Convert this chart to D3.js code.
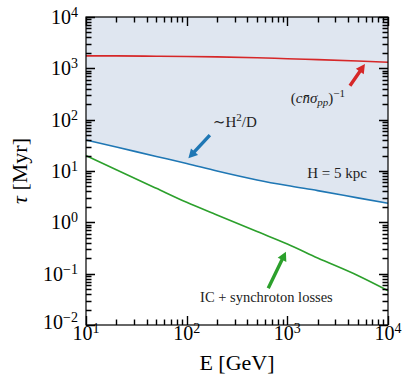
<!DOCTYPE html>
<html>
<head>
<meta charset="utf-8">
<script src="https://cdn.jsdelivr.net/npm/d3@7.9.0/dist/d3.min.js"></script>
<style>
  body { margin: 0; background: #fff; }
  svg { display: block; font-family: "Liberation Serif", "DejaVu Serif", serif; }
</style>
</head>
<body>
<svg id="chart"></svg>
<script>
// values (E in GeV, tau in Myr)
const energy = [10, 20, 50, 100, 200, 500, 1000, 2000, 5000, 10000];
const tauPP = [1750, 1745, 1720, 1700, 1670, 1610, 1540, 1480, 1390, 1310];
const tauEscape = [40.2, 29.3, 19.2, 14.0, 10.0, 6.7, 5.2, 4.15, 3.0, 2.35];
const tauLoss = [20.0, 10.6, 4.6, 2.45, 1.39, 0.66, 0.378, 0.202, 0.092, 0.0466];

const xTickExps = [1, 2, 3, 4];
const yTickExps = [-2, -1, 0, 1, 2, 3, 4];

// arrows: [tail, head] in data coords
const arrows = [
  { color: '#d62728', from: [4190, 459], to: [5900, 1214] },
  { color: '#1f77b4', from: [170, 50], to: [104, 17.7] },
  { color: '#2ca02c', from: [646, 0.0519], to: [968, 0.268] },
];

const width = 403;
const height = 377;
const margin = { top: 17, right: 15, bottom: 52, left: 86 };

const svg = d3.select('#chart').attr('width', width).attr('height', height);

const x = d3.scaleLog().domain([10, 1e4]).range([margin.left, width - margin.right]);
const y = d3.scaleLog().domain([1e-2, 1e4]).range([height - margin.bottom, margin.top]);

const colors = { pp: '#d62728', esc: '#1f77b4', loss: '#2ca02c' };

// shaded region above the escape curve
const area = d3.area()
  .curve(d3.curveMonotoneX)
  .x((d, i) => x(energy[i]))
  .y0(y(1e4))
  .y1((d) => y(d));

svg.append('path')
  .datum(tauEscape)
  .attr('d', area)
  .attr('fill', '#dfe6f0');

const line = d3.line()
  .curve(d3.curveMonotoneX)
  .x((d, i) => x(energy[i]))
  .y((d) => y(d));

[[tauPP, colors.pp], [tauEscape, colors.esc], [tauLoss, colors.loss]].forEach(([vals, c]) => {
  svg.append('path')
    .datum(vals)
    .attr('d', line)
    .attr('fill', 'none')
    .attr('stroke', c)
    .attr('stroke-width', 1.6);
});

// ticks (inward, on all four sides)
function logTicks(exps) {
  const ticks = [];
  exps.forEach((e, i) => {
    ticks.push({ v: Math.pow(10, e), major: true });
    if (i < exps.length - 1) {
      for (let k = 2; k <= 9; k++) ticks.push({ v: k * Math.pow(10, e), major: false });
    }
  });
  return ticks;
}
const bottomY = height - margin.bottom;
const rightX = width - margin.right;
const majorLen = 9, minorLen = 5.5;

let tickPath = '';
logTicks(xTickExps).forEach((t) => {
  const px = Math.round(x(t.v)) + 0.5;
  const len = t.major ? majorLen : minorLen;
  tickPath += `M${px},${bottomY}V${bottomY - len}`;
  tickPath += `M${px},${margin.top}V${margin.top + len}`;
});
logTicks(yTickExps).forEach((t) => {
  const py = Math.round(y(t.v)) + 0.5;
  const len = t.major ? majorLen : minorLen;
  tickPath += `M${margin.left},${py}H${margin.left + len}`;
  tickPath += `M${rightX},${py}H${rightX - len}`;
});
svg.append('path')
  .attr('d', tickPath)
  .attr('fill', 'none')
  .attr('stroke', '#000')
  .attr('stroke-width', 1.4);

svg.append('rect')
  .attr('x', margin.left)
  .attr('y', margin.top)
  .attr('width', rightX - margin.left)
  .attr('height', bottomY - margin.top)
  .attr('fill', 'none')
  .attr('stroke', '#000')
  .attr('stroke-width', 1.2);

// tick labels 10^k
function powerLabel(sel, e) {
  sel.append('tspan').text('10');
  sel.append('tspan')
    .attr('dy', -7)
    .attr('font-size', 14)
    .text(e < 0 ? '\u2212' + Math.abs(e) : String(e));
}
xTickExps.forEach((e) => {
  svg.append('text')
    .attr('x', x(Math.pow(10, e)))
    .attr('y', bottomY + 15)
    .attr('text-anchor', 'middle')
    .attr('font-size', 20)
    .call(powerLabel, e);
});
yTickExps.forEach((e) => {
  svg.append('text')
    .attr('x', 78)
    .attr('y', y(Math.pow(10, e)) + (e === -2 ? 4 : 7))
    .attr('text-anchor', 'end')
    .attr('font-size', 20)
    .call(powerLabel, e);
});

// axis titles
svg.append('text')
  .attr('x', (margin.left + rightX) / 2)
  .attr('y', 370)
  .attr('text-anchor', 'middle')
  .attr('font-size', 22)
  .text('E [GeV]');

const yTitle = svg.append('text')
  .attr('transform', `translate(27,${(margin.top + bottomY) / 2}) rotate(-90)`)
  .attr('text-anchor', 'middle')
  .attr('font-size', 22);
yTitle.append('tspan').attr('font-style', 'italic').text('\u03c4');
yTitle.append('tspan').text(' [Myr]');

// arrows
arrows.forEach((a) => {
  const x0 = x(a.from[0]), y0 = y(a.from[1]);
  const x1 = x(a.to[0]), y1 = y(a.to[1]);
  const len = Math.hypot(x1 - x0, y1 - y0);
  const ux = (x1 - x0) / len, uy = (y1 - y0) / len;
  const nx = -uy, ny = ux;
  const hl = 9, hw = 4.8, sw = 1.7;
  const bx = x1 - ux * hl, by = y1 - uy * hl;
  const pts = [
    [x0 + nx * sw, y0 + ny * sw],
    [bx + nx * sw, by + ny * sw],
    [bx + nx * hw, by + ny * hw],
    [x1, y1],
    [bx - nx * hw, by - ny * hw],
    [bx - nx * sw, by - ny * sw],
    [x0 - nx * sw, y0 - ny * sw],
  ];
  svg.append('path')
    .attr('d', 'M' + pts.map((p) => p.join(',')).join('L') + 'Z')
    .attr('fill', a.color);
});

// annotation labels
const ppLabel = svg.append('text')
  .attr('x', x(2014))
  .attr('y', y(211))
  .attr('text-anchor', 'middle')
  .attr('font-size', 15)
  .attr('fill', '#222');
ppLabel.append('tspan').text('(');
ppLabel.append('tspan').attr('font-style', 'italic').text('cn\u0304\u03c3');
ppLabel.append('tspan').attr('font-style', 'italic').attr('font-size', 11).attr('dy', 3).text('pp');
ppLabel.append('tspan').attr('dy', -3).text(')');
ppLabel.append('tspan').attr('font-size', 11).attr('dy', -6).text('\u22121');

const escLabel = svg.append('text')
  .attr('x', x(182))
  .attr('y', y(72))
  .attr('font-size', 15)
  .attr('fill', '#222');
escLabel.append('tspan').text('\u223cH');
escLabel.append('tspan').attr('font-size', 11).attr('dy', -6).text('2');
escLabel.append('tspan').attr('dy', 6).text('/D');

svg.append('text')
  .attr('x', x(6166))
  .attr('y', y(7.3))
  .attr('text-anchor', 'end')
  .attr('font-size', 15)
  .attr('fill', '#222')
  .text('H = 5 kpc');

svg.append('text')
  .attr('x', x(620))
  .attr('y', y(0.0284))
  .attr('text-anchor', 'middle')
  .attr('font-size', 14.5)
  .attr('fill', '#222')
  .text('IC + synchroton losses');
</script>
</body>
</html>
